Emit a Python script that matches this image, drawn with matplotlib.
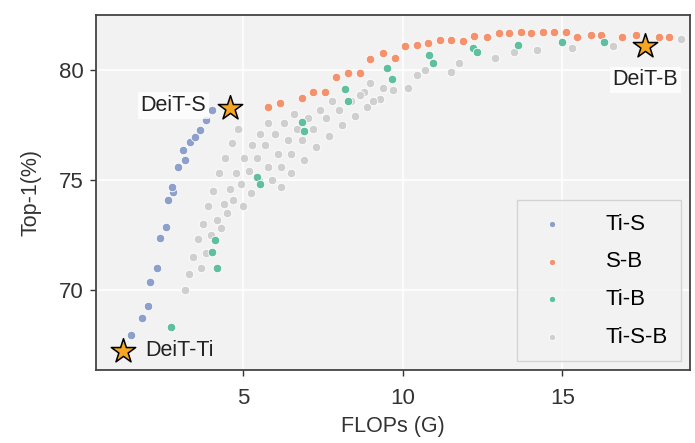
import matplotlib.pyplot as plt
import numpy as np

# FLOPs (G) / Top-1 (%)
ti_s_x = [1.5, 1.84, 2.03, 2.09, 2.31, 2.41, 2.59, 2.66, 2.81, 2.78, 2.97, 3.13, 3.19, 3.34, 3.5, 3.66, 3.84, 4.03]
ti_s_y = [67.95, 68.73, 69.27, 70.36, 71.0, 72.36, 72.86, 74.09, 74.45, 74.68, 75.59, 76.36, 75.9, 76.73, 76.95, 77.27, 77.73, 78.18]

s_b_x = [5.78, 6.16, 6.84, 7.19, 7.56, 7.91, 8.28, 8.66, 8.97, 9.38, 9.75, 10.09, 10.44, 10.78, 11.16, 11.53, 11.88,
         12.25, 12.63, 13.03, 13.34, 13.72, 14.03, 14.38, 14.75, 15.13, 15.47, 15.9, 16.22, 16.88, 17.31, 18.03, 18.34]
s_b_y = [78.32, 78.5, 78.73, 79.0, 79.0, 79.68, 79.86, 79.86, 80.5, 80.77, 80.55, 81.09, 81.14, 81.23, 81.36, 81.36, 81.32,
         81.55, 81.5, 81.68, 81.68, 81.73, 81.68, 81.73, 81.73, 81.73, 81.5, 81.59, 81.59, 81.5, 81.59, 81.5, 81.5]

ti_b_x = [2.75, 4.03, 4.13, 4.19, 5.44, 5.53, 6.84, 6.9, 8.19, 8.28, 9.5, 9.66, 10.84, 10.94, 12.19, 12.34, 13.6, 15.0, 16.31]
ti_b_y = [68.32, 71.73, 72.27, 71.0, 75.14, 74.82, 77.64, 77.23, 79.14, 78.59, 80.09, 79.59, 80.68, 80.32, 81.0, 80.82, 81.14, 81.27, 81.27]

ti_s_b_x = [3.2, 3.3, 3.45, 3.6, 3.75, 3.9, 4.05, 4.25, 4.45, 4.65, 4.85,
            3.7, 3.85, 4.0, 4.2, 4.4, 4.6, 4.8, 5.05, 5.3, 5.55, 5.8,
            4.3, 4.5, 4.7, 4.95, 5.2, 5.45, 5.7, 6.0, 6.3, 6.6,
            5.0, 5.25, 5.5, 5.8, 6.1, 6.4, 6.7, 7.05, 7.4, 7.8,
            5.9, 6.2, 6.5, 6.85, 7.2, 7.6, 8.0, 8.4, 8.8,
            6.2, 6.5, 6.9, 7.3, 7.7, 8.1, 8.5, 8.9, 9.3, 9.7,
            9.38, 9.06, 8.66, 8.97, 10.16, 10.44, 10.69, 11.53, 11.78, 12.9, 13.5, 14.2, 15.3, 16.6, 18.7]
ti_s_b_y = [70.0, 70.7, 71.5, 72.3, 73.0, 73.8, 74.5, 75.3, 76.0, 76.7, 77.3,
            71.0, 71.7, 72.5, 73.2, 73.9, 74.6, 75.3, 76.0, 76.6, 77.1, 77.6,
            72.8, 73.5, 74.1, 74.8, 75.4, 76.0, 76.6, 77.1, 77.6, 78.0,
            73.8, 74.4, 75.0, 75.6, 76.2, 76.8, 77.3, 77.8, 78.2, 78.6,
            75.0, 75.6, 76.2, 76.8, 77.3, 77.8, 78.2, 78.6, 79.0,
            74.7, 75.3, 75.9, 76.5, 77.0, 77.5, 77.9, 78.3, 78.7, 79.1,
            79.2, 78.6, 78.86, 79.4, 79.2, 79.77, 80.0, 79.9, 80.3, 80.55, 80.8, 80.9, 81.0, 81.1, 81.4]

deit_names = ['DeiT-Ti', 'DeiT-S', 'DeiT-B']
deit_x = [1.25, 4.6, 17.6]
deit_y = [67.2, 78.27, 81.1]

plt.rcParams['font.family'] = ['Liberation Sans', 'DejaVu Sans']

fig = plt.figure(figsize=(6.95, 4.43), dpi=100)
ax = fig.add_axes([0.138, 0.165, 0.855, 0.801])
ax.set_facecolor('#f2f2f2')
ax.grid(True, color='white', linewidth=1.2)
ax.set_axisbelow(True)

ax.scatter(ti_s_x, ti_s_y, s=38, color='#8d9fcb', edgecolor='white', linewidth=0.6, label='Ti-S', zorder=3)
ax.scatter(s_b_x, s_b_y, s=38, color='#f4926d', edgecolor='white', linewidth=0.6, label='S-B', zorder=3)
ax.scatter(ti_b_x, ti_b_y, s=38, color='#5fbf9f', edgecolor='white', linewidth=0.6, label='Ti-B', zorder=4)
ax.scatter(ti_s_b_x, ti_s_b_y, s=38, color='#cfcfcf', edgecolor='white', linewidth=0.6, label='Ti-S-B', zorder=2)

ax.scatter(deit_x, deit_y, marker='*', s=340, color='#f5a623', edgecolor='black', linewidth=1.1, zorder=6)

box = dict(facecolor='white', edgecolor='none', alpha=0.8, pad=2)
ax.annotate(deit_names[0], (deit_x[0], deit_y[0]), xytext=(16, 1), textcoords='offset points',
            ha='left', va='center', fontsize=15.5, color='#222222', zorder=7)
ax.annotate(deit_names[1], (deit_x[1], deit_y[1]), xytext=(-17, 2), textcoords='offset points',
            ha='right', va='center', fontsize=15.5, color='#222222', bbox=box, zorder=7)
ax.annotate(deit_names[2], (deit_x[2], deit_y[2]), xytext=(0, -17), textcoords='offset points',
            ha='center', va='top', fontsize=15.5, color='#222222', bbox=box, zorder=7)

ax.set_xlim(0.4, 19)
ax.set_ylim(66.36, 82.5)
ax.set_xticks([5, 10, 15])
ax.set_yticks([70, 75, 80])
ax.tick_params(axis='both', labelsize=16, colors='#333333', length=4, width=1, direction='out')
ax.tick_params(axis='x', pad=9)
ax.tick_params(axis='y', pad=5)
for sp in ax.spines.values():
    sp.set_color('#444444')
    sp.set_linewidth(1.3)

ax.set_xlabel('FLOPs (G)', fontsize=15.5, color='#333333', labelpad=5)
ax.set_ylabel('Top-1(%)', fontsize=15.5, color='#333333', labelpad=12)

leg = ax.legend(loc='lower right', fontsize=16, frameon=True, facecolor='#f2f2f2', edgecolor='#cccccc',
                markerscale=0.75, handletextpad=1.4, borderpad=0.6, labelspacing=0.75, fancybox=False,
                borderaxespad=0.4)

fig.savefig('out.png', dpi=100)
